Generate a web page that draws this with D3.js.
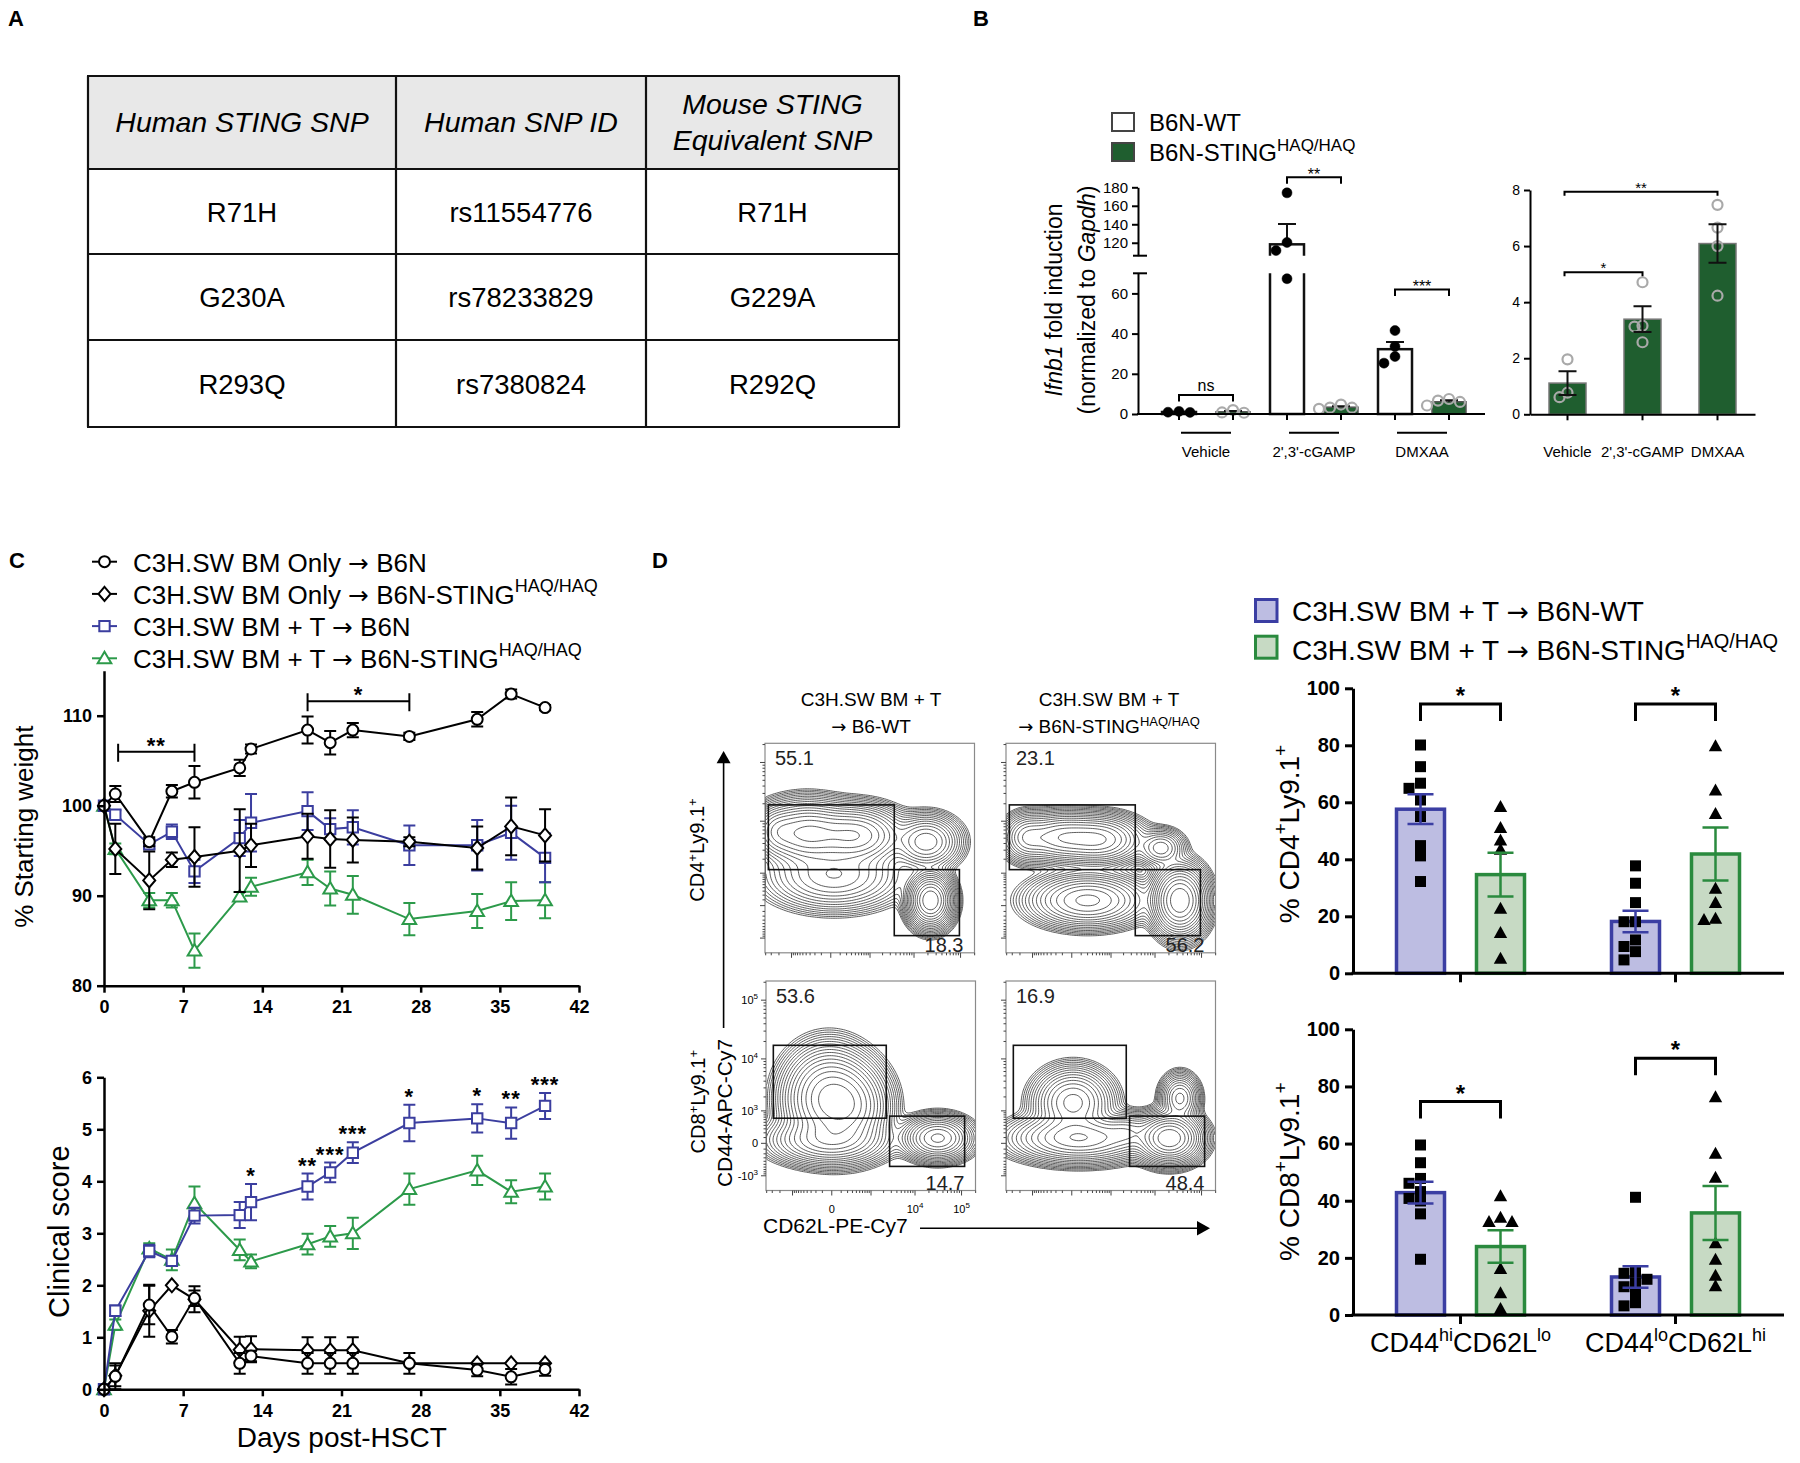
<!DOCTYPE html>
<html>
<head>
<meta charset="utf-8">
<script src="https://cdn.jsdelivr.net/npm/d3@7/dist/d3.min.js"></script>
<style>
  body { margin: 0; background: #fff; }
  svg { display: block; font-family: "Liberation Sans", Arial, Helvetica, sans-serif; }
</style>
</head>
<body>
<svg id="fig" width="1800" height="1463"></svg>
<script>
// ---------------- data ----------------
// A: SNP table
const snpHeader = [["Human STING SNP"], ["Human SNP ID"], ["Mouse STING", "Equivalent SNP"]];
const snpRows = [
  ["R71H", "rs11554776", "R71H"],
  ["G230A", "rs78233829", "G229A"],
  ["R293Q", "rs7380824", "R292Q"]
];

// B: Ifnb1 fold induction, replicate values per treatment
const treatments = ["Vehicle", "2',3'-cGAMP", "DMXAA"];
const ifnbWT = [[0.8, 1.3, 0.9], [174, 120.3, 111.6, 67.3], [41.5, 33.6, 25.3, 28.6]];
const ifnbHAQ = [[1.96, 0.61, 0.77], [4.71, 3.16, 3.13, 2.57], [7.47, 6.66, 6.0, 4.23]];
const ifnbSigWTvsHAQ = [["ns", 9.5], ["**", 191], ["***", 62]];
const ifnbSigHAQ = [[0, 1, "*", 5.07], [0, 2, "**", 7.94]];
const ifnbLoTicks = [0, 20, 40, 60];
const ifnbHiTicks = [120, 140, 160, 180];
const ifnbHaqTicks = [0, 2, 4, 6, 8];

// C: weight and clinical score after HSCT
const days = [0, 1, 4, 6, 8, 12, 13, 18, 20, 22, 27, 33, 36, 39];
const cohorts = [
  ["C3H.SW BM Only → B6N", ""],
  ["C3H.SW BM Only → B6N-STING", "HAQ/HAQ"],
  ["C3H.SW BM + T → B6N", ""],
  ["C3H.SW BM + T → B6N-STING", "HAQ/HAQ"]
];
const weightMean = [
  [100, 101.3, 96.0, 101.6, 102.6, 104.2, 106.3, 108.4, 107.0, 108.4, 107.7, 109.6, 112.4, 110.9],
  [100, 95.2, 91.7, 94.0, 94.3, 95.0, 95.6, 96.6, 96.3, 96.2, 96.0, 95.3, 97.7, 96.7],
  [100, 99.0, 95.7, 97.1, 92.7, 96.4, 98.1, 99.4, 97.4, 97.6, 95.6, 95.6, 97.0, 94.2],
  [100, 95.2, 89.5, 89.5, 83.9, 89.9, 91.0, 92.6, 90.8, 90.1, 87.4, 88.3, 89.4, 89.5]
];
const weightSem = [
  [0, 0.9, 0.5, 0.7, 1.8, 0.9, 0.5, 1.5, 1.3, 0.8, 0.4, 0.8, 0.5, 0.3],
  [0, 2.8, 3.2, 0.8, 3.3, 4.6, 2.4, 2.5, 3.2, 2.5, 0.5, 2.4, 3.2, 2.9],
  [0, 0.5, 0.5, 0.8, 1.3, 2.0, 3.2, 2.1, 1.2, 1.9, 2.2, 2.8, 3.0, 2.7],
  [0, 0.6, 0.8, 0.8, 1.9, 0.5, 1.0, 1.4, 1.9, 2.1, 1.8, 1.9, 2.1, 2.0]
];
const scoreMean = [
  [0, 0.25, 1.62, 1.01, 1.75, 0.5, 0.64, 0.5, 0.5, 0.5, 0.5, 0.37, 0.24, 0.38],
  [0, 0.26, 1.51, 2.0, 1.73, 0.76, 0.77, 0.75, 0.75, 0.75, 0.5, 0.5, 0.5, 0.5],
  [0, 1.51, 2.66, 2.47, 3.34, 3.35, 3.6, 3.9, 4.17, 4.55, 5.12, 5.21, 5.12, 5.45],
  [0, 1.24, 2.71, 2.49, 3.58, 2.68, 2.46, 2.79, 2.94, 3.0, 3.85, 4.21, 3.8, 3.9]
];
const scoreSem = [
  [0, 0.25, 0.37, 0.13, 0.15, 0.2, 0.1, 0.2, 0.2, 0.2, 0.2, 0.12, 0.15, 0.12],
  [0, 0.2, 0.5, 0, 0.25, 0.25, 0.25, 0.25, 0.25, 0.25, 0, 0, 0, 0],
  [0, 0.1, 0.12, 0.06, 0.15, 0.25, 0.35, 0.25, 0.19, 0.2, 0.35, 0.27, 0.3, 0.25],
  [0, 0.1, 0.1, 0.2, 0.32, 0.2, 0.13, 0.2, 0.2, 0.3, 0.3, 0.28, 0.22, 0.25]
];
const weightSig = [[1.25, 8, "**", 106], [18, 27, "*", 111.6]];
const scoreSigDays = [13, 18, 20, 22, 27, 33, 36, 39];
const scoreSigLabels = ["*", "**", "***", "***", "*", "*", "**", "***"];
const dayTicks = [0, 7, 14, 21, 28, 35, 42];
const weightTicks = [80, 90, 100, 110];
const scoreTicks = [0, 1, 2, 3, 4, 5, 6];

// D: donor T cell phenotype
const subsets = [[["CD44", ""], ["hi", "sup"], ["CD62L", ""], ["lo", "sup"]],
                 [["CD44", ""], ["lo", "sup"], ["CD62L", ""], ["hi", "sup"]]];
const recipients = [["C3H.SW BM + T → B6N-WT", ""], ["C3H.SW BM + T → B6N-STING", "HAQ/HAQ"]];
const cd4WT = [[80.1, 72.5, 66.7, 64.9, 60.8, 55.0, 44.8, 41.2, 32.2], [37.7, 31.6, 24.8, 18.1, 18.1, 11.7, 9.4, 7.6, 4.7]];
const cd4HAQ = [[58.5, 51.2, 46.8, 43.5, 22.8, 14.3, 5.3], [79.8, 64.3, 56.1, 29.8, 24.8, 18.9, 19.3]];
const cd8WT = [[59.5, 53.3, 47.8, 46.1, 43.2, 40.8, 39.9, 35.4, 19.5], [41.2, 15.2, 14.6, 11.3, 12.5, 9.9, 7.6, 4.3, 3.2]];
const cd8HAQ = [[41.7, 34.2, 32.7, 32.7, 16.3, 7.8, 2.3], [76.4, 56.6, 48.2, 25.3, 19.5, 13.9, 10.2]];
const cd4Sig = [["*", 94.5], ["*", 94.5]];
const cd8Sig = [["*", 74.7], ["*", 89.9]];
const pctTicks = [0, 20, 40, 60, 80, 100];

// D: flow plots (relative channel units 0-1), TL, TR, BL, BR
const flowTitles = [["C3H.SW BM + T", "→ B6-WT", ""], ["C3H.SW BM + T", "→ B6N-STING", "HAQ/HAQ"]];
const flowPercent = [[55.1, 18.3], [23.1, 56.2], [53.6, 14.7], [16.9, 48.4]];
const cd4Gates = [[0.016, 0.617, 0.397, 0.706], [0.617, 0.928, 0.082, 0.397]];
const cd8Gates = [[0.035, 0.574, 0.345, 0.693], [0.59, 0.948, 0.115, 0.355]];
// populations: [centre u, centre v, spread u, spread v, weight]
const flowPopulations = [
  [[0.20, 0.57, 0.10, 0.065, 1.0], [0.43, 0.56, 0.10, 0.06, 0.9], [0.06, 0.58, 0.05, 0.05, 0.3],
   [0.33, 0.37, 0.14, 0.07, 0.35], [0.77, 0.53, 0.07, 0.055, 0.45], [0.79, 0.25, 0.045, 0.055, 1.8]],
  [[0.27, 0.55, 0.10, 0.05, 0.7], [0.45, 0.54, 0.09, 0.05, 0.7], [0.10, 0.55, 0.05, 0.05, 0.3],
   [0.39, 0.25, 0.12, 0.055, 0.6], [0.74, 0.50, 0.05, 0.04, 0.25], [0.83, 0.25, 0.055, 0.07, 2.0]],
  [[0.30, 0.44, 0.09, 0.10, 1.0], [0.40, 0.40, 0.08, 0.09, 0.6], [0.30, 0.24, 0.12, 0.05, 0.4],
   [0.82, 0.25, 0.07, 0.045, 0.55]],
  [[0.32, 0.42, 0.08, 0.07, 0.5], [0.35, 0.25, 0.14, 0.05, 0.6], [0.78, 0.25, 0.065, 0.05, 1.6],
   [0.83, 0.44, 0.04, 0.05, 0.35], [0.58, 0.28, 0.06, 0.04, 0.2]]
];
const flowYMajor = [-1000, 0, 1000, 10000, 100000];
const flowXMajor = [-1000, 0, 1000, 10000, 100000];
const flowYLabels = [[100000, "10", "5"], [10000, "10", "4"], [1000, "10", "3"], [0, "0", ""], [-1000, "-10", "3"]];
const flowXLabels = [[0, "0", ""], [10000, "10", "4"], [100000, "10", "5"]];

// ---------------- helpers ----------------
const svg = d3.select("#fig");
svg.append("rect").attr("width", 1800).attr("height", 1463).attr("fill", "#fff");
const defs = svg.append("defs");

const BLUE = "#3b3ea3", LAV = "#bdbde2", GREEN = "#2a8a3e", SAGE = "#c7dac4";
const CBLUE = "#3b3e9f", CGREEN = "#2c9a4a", DKGREEN = "#1f5e2f";

// text with superscripts / italics; arrows taken from DejaVu for a full-width glyph
function rich(text, parts, supSize, raise) {
  let up = false;
  parts.forEach(([t, kind]) => {
    if (!t) return;
    if (kind === "sup") {
      const s = text.append("tspan").text(t).attr("font-size", supSize);
      if (!up) s.attr("dy", -raise);
      up = true;
      return;
    }
    t.split(/(→)/).filter(x => x).forEach(seg => {
      const s = text.append("tspan").text(seg);
      if (up) s.attr("dy", raise);
      up = false;
      if (kind === "i") s.attr("font-style", "italic");
      if (seg === "→") s.attr("font-family", "'DejaVu Sans', sans-serif").attr("font-size", "0.95em");
    });
  });
  return text;
}

function fmtAxis(g, sw, fs, bold) {
  g.attr("font-family", null).attr("font-size", fs).attr("font-weight", bold ? "bold" : null);
  g.selectAll("path,line").attr("stroke", "#000").attr("stroke-width", sw);
  g.selectAll("text").attr("fill", "#000");
}

// place replicate points side by side when they would overlap
function swarm(values, y, step, minDy) {
  const order = d3.range(values.length).sort((a, b) => values[b] - values[a]);
  const placed = [], off = [];
  order.forEach(i => {
    const py = y(values[i]);
    for (let k = 0; ; k++) {
      const o = k === 0 ? 0 : (k % 2 ? -1 : 1) * Math.ceil(k / 2) * step;
      if (placed.every(p => Math.abs(p.o - o) >= step * 0.9 || Math.abs(p.y - py) >= minDy)) {
        placed.push({ o, y: py }); off[i] = o; break;
      }
    }
  });
  return off;
}

function label(ch, x, y) {
  svg.append("text").attr("x", x).attr("y", y).text(ch)
    .attr("font-family", "'Liberation Sans Narrow', 'Liberation Sans', Arial, sans-serif")
    .attr("font-weight", "bold").attr("font-size", 22);
}

label("A", 8, 26);
label("B", 973, 26);
label("C", 9, 568);
label("D", 652, 568);

// ---------------- A: table ----------------
const gA = svg.append("g");
const colEdges = [88, 396, 646, 899];
const rowEdges = [76, 169, 254, 340, 427];
gA.append("rect").attr("x", colEdges[0]).attr("y", rowEdges[0])
  .attr("width", colEdges[3] - colEdges[0]).attr("height", rowEdges[1] - rowEdges[0]).attr("fill", "#e8e8e8");
rowEdges.forEach(y => gA.append("line").attr("x1", colEdges[0] - 1).attr("x2", colEdges[3] + 1)
  .attr("y1", y).attr("y2", y).attr("stroke", "#111").attr("stroke-width", 2.2));
colEdges.forEach(x => gA.append("line").attr("x1", x).attr("x2", x)
  .attr("y1", rowEdges[0]).attr("y2", rowEdges[4]).attr("stroke", "#111").attr("stroke-width", 2.2));
snpHeader.forEach((lines, c) => {
  const cx = (colEdges[c] + colEdges[c + 1]) / 2;
  const base = lines.length === 1 ? [132] : [114, 150];
  lines.forEach((t, k) => gA.append("text").attr("x", cx).attr("y", base[k]).text(t)
    .attr("text-anchor", "middle").attr("font-size", 28.5).attr("font-style", "italic"));
});
snpRows.forEach((row, r) => {
  const cy = (rowEdges[r + 1] + rowEdges[r + 2]) / 2;
  row.forEach((t, c) => gA.append("text").attr("x", (colEdges[c] + colEdges[c + 1]) / 2).attr("y", cy + 10)
    .text(t).attr("text-anchor", "middle").attr("font-size", 27.5));
});

// ---------------- B: Ifnb1 induction ----------------
const gB = svg.append("g");
const legB = [["B6N-WT", "", "#fff"], ["B6N-STING", "HAQ/HAQ", DKGREEN]];
legB.forEach(([t, sup, fill], i) => {
  gB.append("rect").attr("x", 1112).attr("y", 113 + i * 30).attr("width", 22).attr("height", 18)
    .attr("fill", fill).attr("stroke", "#444").attr("stroke-width", 2);
  rich(gB.append("text").attr("x", 1149).attr("y", 131 + i * 30).attr("font-size", 24), [[t, ""], [sup, "sup"]], 17, 10);
});

const bxL = d3.scaleBand().domain(treatments).range([1152, 1476]);
const yLo = d3.scaleLinear().domain([0, 70]).range([414, 273.3]);
const yHi = d3.scaleLinear().domain([106, 180]).range([255.7, 187.3]);
const yBrk = v => (v <= 70 ? yLo(v) : yHi(v));
defs.append("clipPath").attr("id", "clipLo").append("rect")
  .attr("x", 1140).attr("y", yLo(70)).attr("width", 360).attr("height", yLo(0) - yLo(70) + 3);
defs.append("clipPath").attr("id", "clipHi").append("rect")
  .attr("x", 1140).attr("y", 170).attr("width", 360).attr("height", yHi(106) - 170);

const bOff = 27, bW = 34;
treatments.forEach((t, i) => {
  [ifnbWT[i], ifnbHAQ[i]].forEach((vals, k) => {
    const cx = bxL(t) + bxL.bandwidth() / 2 + (k ? bOff : -bOff);
    const m = d3.mean(vals), se = d3.deviation(vals) / Math.sqrt(vals.length);
    const fill = k ? DKGREEN : "#fff", stroke = k ? "#555" : "#111", sw = k ? 1.5 : 2.5;
    const top = m > 70 ? yLo(70) - 6 : yLo(m);
    gB.append("rect").attr("clip-path", "url(#clipLo)").attr("x", cx - bW / 2).attr("width", bW)
      .attr("y", top).attr("height", yLo(0) - top).attr("fill", fill).attr("stroke", stroke).attr("stroke-width", sw);
    if (m > 106) {
      gB.append("rect").attr("clip-path", "url(#clipHi)").attr("x", cx - bW / 2).attr("width", bW)
        .attr("y", yHi(m)).attr("height", yHi(106) + 6 - yHi(m)).attr("fill", fill).attr("stroke", stroke).attr("stroke-width", sw);
    }
    const a = yBrk(m), b = yBrk(m + se);
    gB.append("path").attr("d", `M${cx},${a}V${b}M${cx - 9},${b}H${cx + 9}`)
      .attr("stroke", "#111").attr("stroke-width", 2).attr("fill", "none");
    const off = swarm(vals, yBrk, 11, 9);
    gB.selectAll(null).data(vals).join("circle")
      .attr("cx", (v, j) => cx + off[j]).attr("cy", v => yBrk(v)).attr("r", 5)
      .attr("fill", k ? "none" : "#000").attr("stroke", k ? "#aaa" : "#000").attr("stroke-width", k ? 2.2 : 0.5);
  });
});
gB.append("g").attr("transform", "translate(1138,0)")
  .call(d3.axisLeft(yLo).tickValues(ifnbLoTicks).tickSize(6).tickPadding(4).tickSizeOuter(0)).call(fmtAxis, 2, 15, false);
gB.append("g").attr("transform", "translate(1138,0)")
  .call(d3.axisLeft(yHi).tickValues(ifnbHiTicks).tickSize(6).tickPadding(4).tickSizeOuter(0)).call(fmtAxis, 2, 15, false);
[yLo(70), yHi(106)].forEach(y => gB.append("line").attr("x1", 1133).attr("x2", 1147).attr("y1", y).attr("y2", y)
  .attr("stroke", "#000").attr("stroke-width", 2));
gB.append("line").attr("x1", 1137).attr("x2", 1485).attr("y1", yLo(0)).attr("y2", yLo(0)).attr("stroke", "#000").attr("stroke-width", 2);
treatments.forEach((t, i) => {
  const c = bxL(t) + bxL.bandwidth() / 2;
  [-bOff, bOff].forEach(o => gB.append("line").attr("x1", c + o).attr("x2", c + o).attr("y1", yLo(0)).attr("y2", yLo(0) + 6)
    .attr("stroke", "#000").attr("stroke-width", 2));
  gB.append("line").attr("x1", c - 25).attr("x2", c + 25).attr("y1", 432.7).attr("y2", 432.7).attr("stroke", "#000").attr("stroke-width", 2);
  gB.append("text").attr("x", c).attr("y", 457).attr("text-anchor", "middle").attr("font-size", 15).text(t);
  const [lab, lvl] = ifnbSigWTvsHAQ[i], y = yBrk(lvl);
  gB.append("path").attr("d", `M${c - bOff},${y + 6.5}V${y}H${c + bOff}V${y + 6.5}`)
    .attr("fill", "none").attr("stroke", "#000").attr("stroke-width", 2);
  gB.append("text").attr("x", c).attr("y", lab === "ns" ? y - 4 : y + 3).attr("text-anchor", "middle")
    .attr("font-size", 16).text(lab);
});
rich(gB.append("text").attr("transform", "translate(1062,300) rotate(-90)").attr("text-anchor", "middle").attr("font-size", 23),
  [["Ifnb1", "i"], [" fold induction", ""]], 16, 0);
rich(gB.append("text").attr("transform", "translate(1095,300) rotate(-90)").attr("text-anchor", "middle").attr("font-size", 23),
  [["(normalized to ", ""], ["Gapdh", "i"], [")", ""]], 16, 0);

// B right: HAQ only
const bxR = d3.scaleBand().domain(treatments).range([1530, 1755]);
const yR = d3.scaleLinear().domain([0, 8]).range([414.3, 190]);
treatments.forEach((t, i) => {
  const vals = ifnbHAQ[i], cx = bxR(t) + bxR.bandwidth() / 2;
  const m = d3.mean(vals), se = d3.deviation(vals) / Math.sqrt(vals.length);
  gB.append("rect").attr("x", cx - 18.5).attr("width", 37).attr("y", yR(m)).attr("height", yR(0) - yR(m))
    .attr("fill", DKGREEN).attr("stroke", "#777").attr("stroke-width", 1.5);
  const off = swarm(vals, yR, 8, 8);
  gB.selectAll(null).data(vals).join("circle")
    .attr("cx", (v, j) => cx + off[j]).attr("cy", v => yR(v)).attr("r", 5)
    .attr("fill", "none").attr("stroke", "#a9a9a9").attr("stroke-width", 2.2);
  const a = yR(m - se), b = yR(m + se);
  gB.append("path").attr("d", `M${cx},${a}V${b}M${cx - 9},${a}H${cx + 9}M${cx - 9},${b}H${cx + 9}`)
    .attr("stroke", "#111").attr("stroke-width", 2).attr("fill", "none");
});
gB.append("g").attr("transform", "translate(1530,0)")
  .call(d3.axisLeft(yR).tickValues(ifnbHaqTicks).tickSize(6).tickPadding(4).tickSizeOuter(0)).call(fmtAxis, 2, 14, false);
gB.append("g").attr("transform", `translate(0,${yR(0)})`)
  .call(d3.axisBottom(bxR).tickSize(6).tickPadding(26).tickSizeOuter(0)).call(fmtAxis, 2, 15, false);
ifnbSigHAQ.forEach(([a, b, lab, lvl]) => {
  const x1 = bxR(treatments[a]) + bxR.bandwidth() / 2 - 3, x2 = bxR(treatments[b]) + bxR.bandwidth() / 2, y = yR(lvl);
  gB.append("path").attr("d", `M${x1},${y + 4}V${y}H${x2}V${y + 4}`).attr("fill", "none").attr("stroke", "#000").attr("stroke-width", 2);
  gB.append("text").attr("x", (x1 + x2) / 2).attr("y", y + 1).attr("text-anchor", "middle").attr("font-size", 15).text(lab);
});

// ---------------- C: time course ----------------
const gC = svg.append("g");
const cohortStyle = [
  { color: "#000", mark: "circle" },
  { color: "#000", mark: "diamond" },
  { color: CBLUE, mark: "square" },
  { color: CGREEN, mark: "triangle" }
];
const markerPath = {
  circle: d3.symbol(d3.symbolCircle, Math.PI * 30)(),
  diamond: "M0,-7L6,0L0,7L-6,0Z",
  square: "M-5.2,-5.2H5.2V5.2H-5.2Z",
  triangle: "M0,-6.5L6.8,5H-6.8Z"
};
cohorts.forEach(([t, sup], i) => {
  const y = 561.7 + i * 32.2, st = cohortStyle[i];
  gC.append("line").attr("x1", 92).attr("x2", 117).attr("y1", y).attr("y2", y).attr("stroke", st.color).attr("stroke-width", 2);
  gC.append("path").attr("d", markerPath[st.mark]).attr("transform", `translate(104.5,${y})`)
    .attr("fill", "#fff").attr("stroke", st.color).attr("stroke-width", 2);
  rich(gC.append("text").attr("x", 133).attr("y", y + 10).attr("font-size", 26), [[t, ""], [sup, "sup"]], 18, 12);
});

const xC = d3.scaleLinear().domain([0, 42]).range([104, 579]);
const yW = d3.scaleLinear().domain([80, 115]).range([985.7, 670.7]);
const yS = d3.scaleLinear().domain([0, 6]).range([1389.3, 1077.3]);

function drawCourse(g, y, means, sems) {
  [3, 2, 1, 0].forEach(s => {
    const st = cohortStyle[s];
    const pts = days.map((d, i) => ({ x: xC(d), m: means[s][i], e: sems[s][i] }));
    const gs = g.append("g").attr("stroke", st.color).attr("stroke-width", 2).attr("fill", "none");
    gs.selectAll(null).data(pts.filter(p => p.e > 0)).join("path")
      .attr("d", p => {
        const a = y(p.m - p.e), b = y(p.m + p.e);
        return `M${p.x},${a}V${b}M${p.x - 6},${a}H${p.x + 6}M${p.x - 6},${b}H${p.x + 6}`;
      });
    gs.append("path").attr("d", d3.line().x(p => p.x).y(p => y(p.m))(pts));
    gs.selectAll(null).data(pts).join("path").attr("d", markerPath[st.mark]).attr("fill", "#fff")
      .attr("transform", p => `translate(${p.x},${y(p.m)})`);
  });
}
drawCourse(gC, yW, weightMean, weightSem);
drawCourse(gC, yS, scoreMean, scoreSem);

[[yW, weightTicks], [yS, scoreTicks]].forEach(([y, ticks]) => {
  gC.append("g").attr("transform", `translate(0,${y.range()[0]})`)
    .call(d3.axisBottom(xC).tickValues(dayTicks).tickSize(7).tickPadding(8).tickSizeOuter(0)).call(fmtAxis, 2.5, 18, true);
  gC.append("g").attr("transform", `translate(${xC(0)},0)`)
    .call(d3.axisLeft(y).tickValues(ticks).tickFormat(d3.format("d")).tickSize(7).tickPadding(5).tickSizeOuter(0))
    .call(fmtAxis, 2.5, 18, true);
});
weightSig.forEach(([d1, d2, lab, lvl]) => {
  const x1 = xC(d1), x2 = xC(d2), y = yW(lvl);
  gC.append("path").attr("d", `M${x1},${y - 8}V${y + 10}M${x1},${y}H${x2}M${x2},${y - 8}V${y + 10}`)
    .attr("stroke", "#000").attr("stroke-width", 2).attr("fill", "none");
  gC.append("text").attr("x", (x1 + x2) / 2).attr("y", y + 1).attr("text-anchor", "middle")
    .attr("font-size", 22).attr("font-weight", "bold").attr("letter-spacing", 1).text(lab);
});
scoreSigDays.forEach((d, k) => {
  const i = days.indexOf(d);
  gC.append("text").attr("x", xC(d)).attr("y", yS(scoreMean[2][i] + scoreSem[2][i]) - 1)
    .attr("text-anchor", "middle").attr("font-size", 22).attr("font-weight", "bold").attr("letter-spacing", 1)
    .text(scoreSigLabels[k]);
});
gC.append("text").attr("transform", "translate(33,826.7) rotate(-90)").attr("text-anchor", "middle")
  .attr("font-size", 26).text("% Starting weight");
gC.append("text").attr("transform", "translate(69,1231.7) rotate(-90)").attr("text-anchor", "middle")
  .attr("font-size", 29).text("Clinical score");
gC.append("text").attr("x", 341.8).attr("y", 1447).attr("text-anchor", "middle").attr("font-size", 28).text("Days post-HSCT");

// ---------------- D: flow plots ----------------
const gF = svg.append("g");
const flowFrames = [[765, 743.3], [1006, 743.3], [766, 981], [1006, 981]];
const FW = 209.5, FH = 209.5;
flowTitles.forEach(([l1, l2, sup], c) => {
  const cx = [871, 1109][c];
  gF.append("text").attr("x", cx).attr("y", 706).attr("text-anchor", "middle").attr("font-size", 19).text(l1);
  rich(gF.append("text").attr("x", cx).attr("y", 733).attr("text-anchor", "middle").attr("font-size", 19),
    [[l2, ""], [sup, "sup"]], 13, 7);
});
flowPopulations.forEach((pops, p) => {
  const [fx, fy] = flowFrames[p];
  const g = gF.append("g");
  defs.append("clipPath").attr("id", "fclip" + p).append("rect").attr("x", fx).attr("y", fy).attr("width", FW).attr("height", FH);
  const n = 120, vals = new Float64Array(n * n);
  for (let j = 0; j < n; j++) for (let i = 0; i < n; i++) {
    const u = (i + 0.5) / n, v = 1 - (j + 0.5) / n;
    let s = 0;
    pops.forEach(([pu, pv, su, sv, w]) => {
      const dx = (u - pu) / su, dy = (v - pv) / sv;
      s += w * Math.exp(-0.5 * (dx * dx + dy * dy));
    });
    vals[j * n + i] = s;
  }
  const mx = d3.max(vals);
  const contours = d3.contours().size([n, n]).thresholds(d3.range(1, 19).map(k => mx * Math.pow(0.72, k)))(vals);
  const proj = d3.geoTransform({ point(x, y) { this.stream.point(fx + x * FW / n, fy + y * FH / n); } });
  g.append("g").attr("clip-path", `url(#fclip${p})`).selectAll("path").data(contours).join("path")
    .attr("d", d3.geoPath(proj)).attr("fill", "none").attr("stroke", "#333").attr("stroke-width", 0.8);
  g.append("rect").attr("x", fx).attr("y", fy).attr("width", FW).attr("height", FH)
    .attr("fill", "none").attr("stroke", "#8a8a8a").attr("stroke-width", 1.2);
  (p < 2 ? cd4Gates : cd8Gates).forEach(([u0, u1, v0, v1]) => {
    g.append("rect").attr("x", fx + u0 * FW).attr("y", fy + (1 - v1) * FH)
      .attr("width", (u1 - u0) * FW).attr("height", (v1 - v0) * FH)
      .attr("fill", "none").attr("stroke", "#111").attr("stroke-width", 1.6);
  });
  g.append("text").attr("x", fx + 10).attr("y", fy + 22).attr("font-size", 20).attr("fill", "#222").text(flowPercent[p][0]);
  g.append("text").attr("x", fx + FW - 11).attr("y", fy + FH - 1).attr("text-anchor", "end")
    .attr("font-size", 20).attr("fill", "#222").text(flowPercent[p][1]);

  // biexponential-like axes
  const xs = d3.scaleSymlog().constant(170).domain([-4140, 198600]).range([fx, fx + FW]);
  const ys = d3.scaleSymlog().constant(400).domain([-2070, 210000]).range([fy + FH, fy]);
  const minor = (lo) => [...d3.range(-900, 0, 100), ...d3.range(100, 1000, 100), ...d3.range(2000, 10000, 1000),
    ...d3.range(20000, 100000, 10000), 200000, ...lo];
  const tk = g.append("g").attr("stroke", "#444").attr("stroke-width", 1);
  flowYMajor.forEach(v => tk.append("line").attr("x1", fx - 5).attr("x2", fx).attr("y1", ys(v)).attr("y2", ys(v)));
  minor([]).forEach(v => tk.append("line").attr("x1", fx - 2.5).attr("x2", fx).attr("y1", ys(v)).attr("y2", ys(v)));
  flowXMajor.forEach(v => tk.append("line").attr("y1", fy + FH).attr("y2", fy + FH + 5).attr("x1", xs(v)).attr("x2", xs(v)));
  minor([-4000, -3000, -2000]).forEach(v => tk.append("line").attr("y1", fy + FH).attr("y2", fy + FH + 2.5).attr("x1", xs(v)).attr("x2", xs(v)));
  if (p === 2) {
    flowYLabels.forEach(([v, b, e]) => rich(g.append("text").attr("x", fx - 8).attr("y", ys(v) + 4)
      .attr("text-anchor", "end").attr("font-size", 11), [[b, ""], [e, "sup"]], 8, 5));
    flowXLabels.forEach(([v, b, e]) => rich(g.append("text").attr("x", xs(v)).attr("y", fy + FH + 22)
      .attr("text-anchor", "middle").attr("font-size", 11), [[b, ""], [e, "sup"]], 8, 5));
  }
});
// flow axis titles and arrows
gF.append("line").attr("x1", 723.6).attr("x2", 723.6).attr("y1", 760).attr("y2", 1028).attr("stroke", "#000").attr("stroke-width", 1.6);
gF.append("path").attr("d", "M716.6,763.3L723.6,751L730.6,763.3Z").attr("fill", "#000");
gF.append("line").attr("x1", 920).attr("x2", 1200).attr("y1", 1228.3).attr("y2", 1228.3).attr("stroke", "#000").attr("stroke-width", 1.6);
gF.append("path").attr("d", "M1197,1221L1210,1228.3L1197,1235.6Z").attr("fill", "#000");
rich(gF.append("text").attr("transform", "translate(704,850) rotate(-90)").attr("text-anchor", "middle").attr("font-size", 20),
  [["CD4", ""], ["+", "sup"], ["Ly9.1", ""], ["+", "sup"]], 13, 7);
rich(gF.append("text").attr("transform", "translate(705,1101.7) rotate(-90)").attr("text-anchor", "middle").attr("font-size", 20),
  [["CD8", ""], ["+", "sup"], ["Ly9.1", ""], ["+", "sup"]], 13, 7);
gF.append("text").attr("transform", "translate(732,1113) rotate(-90)").attr("text-anchor", "middle").attr("font-size", 21).text("CD44-APC-Cy7");
gF.append("text").attr("x", 763).attr("y", 1233).attr("font-size", 21).text("CD62L-PE-Cy7");

// ---------------- D: bar charts ----------------
const gD = svg.append("g");
recipients.forEach(([t, sup], i) => {
  gD.append("rect").attr("x", 1255.5).attr("y", 599.5 + i * 36.7).attr("width", 21.5).attr("height", 22)
    .attr("fill", i ? SAGE : LAV).attr("stroke", i ? GREEN : BLUE).attr("stroke-width", 3);
  rich(gD.append("text").attr("x", 1292).attr("y", 620.7 + i * 39.3).attr("font-size", 28), [[t, ""], [sup, "sup"]], 20, 12);
});
const xD = d3.scaleBand().domain([0, 1]).range([1353, 1783]);
const subD = d3.scalePoint().domain([0, 1]).range([-40, 40]);
const dStyle = [{ stroke: BLUE, fill: LAV, mark: "M-5.5,-5.5H5.5V5.5H-5.5Z" },
                { stroke: GREEN, fill: SAGE, mark: "M0,-6.5L6.7,5.5H-6.7Z" }];

function drawPct(y, wt, haq, sig, titleParts, titleY, withCats) {
  const g = gD.append("g");
  [wt, haq].forEach((set, k) => {
    set.forEach((vals, gi) => {
      const cx = xD(gi) + xD.bandwidth() / 2 + subD(k);
      const m = d3.mean(vals), se = d3.deviation(vals) / Math.sqrt(vals.length);
      g.append("rect").attr("x", cx - 24).attr("width", 48).attr("y", y(m)).attr("height", y(0) - y(m))
        .attr("fill", dStyle[k].fill).attr("stroke", dStyle[k].stroke).attr("stroke-width", 3.5);
      const off = swarm(vals, y, 11.5, 9);
      g.selectAll(null).data(vals).join("path").attr("d", dStyle[k].mark).attr("fill", "#000")
        .attr("transform", (v, j) => `translate(${cx + off[j]},${y(v)})`);
      const a = y(m - se), b = y(m + se);
      g.append("path").attr("d", `M${cx},${a}V${b}M${cx - 13},${a}H${cx + 13}M${cx - 13},${b}H${cx + 13}`)
        .attr("stroke", dStyle[k].stroke).attr("stroke-width", 2.5).attr("fill", "none");
    });
  });
  g.append("g").attr("transform", "translate(1353,0)")
    .call(d3.axisLeft(y).tickValues(pctTicks).tickSize(8).tickPadding(5).tickSizeOuter(0)).call(fmtAxis, 3, 20, true);
  g.append("line").attr("x1", 1351.5).attr("x2", 1784).attr("y1", y(0)).attr("y2", y(0)).attr("stroke", "#000").attr("stroke-width", 3);
  [0, 1].forEach(gi => {
    const c = xD(gi) + xD.bandwidth() / 2;
    g.append("line").attr("x1", c).attr("x2", c).attr("y1", y(0)).attr("y2", y(0) + 9).attr("stroke", "#000").attr("stroke-width", 3);
    const [lab, lvl] = sig[gi], yy = y(lvl);
    g.append("path").attr("d", `M${c + subD(0)},${yy + 17}V${yy}H${c + subD(1)}V${yy + 17}`)
      .attr("fill", "none").attr("stroke", "#000").attr("stroke-width", 3);
    g.append("text").attr("x", c).attr("y", yy).attr("text-anchor", "middle").attr("font-size", 24).attr("font-weight", "bold").text(lab);
    if (withCats) rich(g.append("text").attr("x", c).attr("y", 1351.5).attr("text-anchor", "middle").attr("font-size", 27),
      subsets[gi], 18, 11);
  });
  rich(g.append("text").attr("transform", `translate(1299,${titleY}) rotate(-90)`).attr("text-anchor", "middle").attr("font-size", 28),
    titleParts, 19, 12);
}
drawPct(d3.scaleLinear().domain([0, 100]).range([973.3, 688.3]), cd4WT, cd4HAQ, cd4Sig,
  [["% CD4", ""], ["+", "sup"], ["Ly9.1", ""], ["+", "sup"]], 834, false);
drawPct(d3.scaleLinear().domain([0, 100]).range([1315, 1029.3]), cd8WT, cd8HAQ, cd8Sig,
  [["% CD8", ""], ["+", "sup"], ["Ly9.1", ""], ["+", "sup"]], 1171.7, true);
</script>
</body>
</html>
